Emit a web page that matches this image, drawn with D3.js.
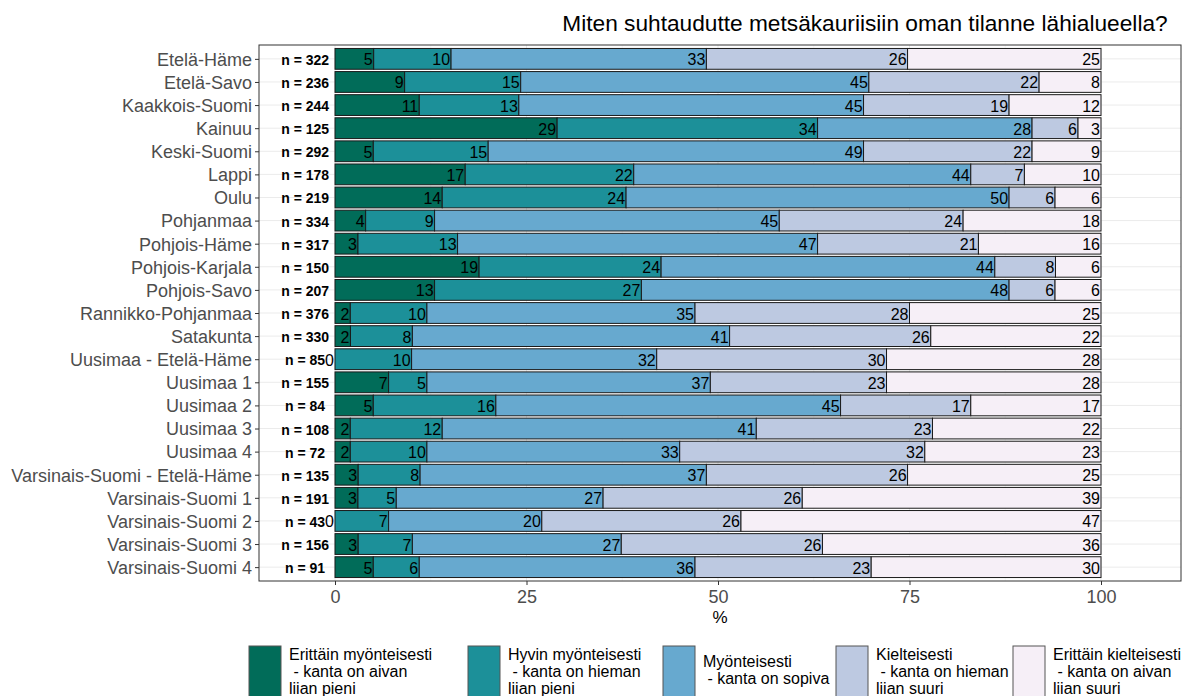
<!DOCTYPE html>
<html lang="fi">
<head>
<meta charset="UTF-8">
<title>Metsäkauris</title>
<script src="https://d3js.org/d3.v7.min.js"></script>
<style>
    body { margin: 0; background: #fff; font-family: "Liberation Sans", Arial, sans-serif; }
    svg text { font-family: "Liberation Sans", Arial, sans-serif; }
    .axis text { fill: #4d4d4d; font-size: 18px; }
    .axis line { stroke: #333; }
    .axis path { display: none; }
    .seglabel { font-size: 16px; fill: #000; }
    .nlabel { font-size: 14px; font-weight: bold; fill: #000; }
    .legend text { font-size: 16px; fill: #000; white-space: pre; }
</style>
</head>
<body>
<div id="chart"></div>
<script>
// regions (top to bottom) and respondents per region
const regions = ["Etelä-Häme", "Etelä-Savo", "Kaakkois-Suomi", "Kainuu", "Keski-Suomi", "Lappi", "Oulu",
    "Pohjanmaa", "Pohjois-Häme", "Pohjois-Karjala", "Pohjois-Savo", "Rannikko-Pohjanmaa", "Satakunta",
    "Uusimaa - Etelä-Häme", "Uusimaa 1", "Uusimaa 2", "Uusimaa 3", "Uusimaa 4",
    "Varsinais-Suomi - Etelä-Häme", "Varsinais-Suomi 1", "Varsinais-Suomi 2", "Varsinais-Suomi 3", "Varsinais-Suomi 4"];
const respondents = [322, 236, 244, 125, 292, 178, 219, 334, 317, 150, 207, 376, 330, 85, 155, 84, 108, 72, 135, 191, 43, 156, 91];

// shares (%) per answer
const erittainMyonteisesti = [5, 9, 11, 29, 5, 17, 14, 4, 3, 19, 13, 2, 2, 0, 7, 5, 2, 2, 3, 3, 0, 3, 5];
const hyvinMyonteisesti    = [10, 15, 13, 34, 15, 22, 24, 9, 13, 24, 27, 10, 8, 10, 5, 16, 12, 10, 8, 5, 7, 7, 6];
const myonteisesti         = [33, 45, 45, 28, 49, 44, 50, 45, 47, 44, 48, 35, 41, 32, 37, 45, 41, 33, 37, 27, 20, 27, 36];
const kielteisesti         = [26, 22, 19, 6, 22, 7, 6, 24, 21, 8, 6, 28, 26, 30, 23, 17, 23, 32, 26, 26, 26, 26, 23];
const erittainKielteisesti = [25, 8, 12, 3, 9, 10, 6, 18, 16, 6, 6, 25, 22, 28, 28, 17, 22, 23, 25, 39, 47, 36, 30];

const answers = [
    ["Erittäin myönteisesti", " - kanta on aivan", "liian pieni"],
    ["Hyvin myönteisesti", " - kanta on hieman", "liian pieni"],
    ["Myönteisesti", " - kanta on sopiva"],
    ["Kielteisesti", " - kanta on hieman", "liian suuri"],
    ["Erittäin kielteisesti", " - kanta on aivan", "liian suuri"]
];
const palette = ["#016c59", "#1c9099", "#67a9cf", "#bdc9e1", "#f6eff7"];
const xTicks = [0, 25, 50, 75, 100];
const title = "Miten suhtaudutte metsäkauriisiin oman tilanne lähialueella?";

const series = [erittainMyonteisesti, hyvinMyonteisesti, myonteisesti, kielteisesti, erittainKielteisesti];
const keys = d3.range(series.length);
const rows = regions.map((r, i) => {
    const o = { region: r, n: respondents[i] };
    keys.forEach(k => o[k] = series[k][i]);
    return o;
});

const width = 1187, height = 696;
const panel = { left: 259, right: 1181, top: 45, bottom: 581 };
const legendX = [249, 468, 663, 836, 1013];

const svg = d3.select("#chart").append("svg")
    .attr("width", width)
    .attr("height", height);

const x = d3.scaleLinear().domain([0, 100]).range([335, 1101]);
const y = d3.scalePoint().domain(regions).range([panel.top, panel.bottom]).padding(0.6);
const barH = y.step() * 0.9;

// grid
const grid = svg.append("g");
d3.range(12.5, 112.5, 25).forEach(v => {
    grid.append("line").attr("x1", x(v)).attr("x2", x(v))
        .attr("y1", panel.top).attr("y2", panel.bottom)
        .attr("stroke", "#f2f2f2").attr("stroke-width", 0.6);
});
xTicks.forEach(v => {
    grid.append("line").attr("x1", x(v)).attr("x2", x(v))
        .attr("y1", panel.top).attr("y2", panel.bottom)
        .attr("stroke", "#ebebeb").attr("stroke-width", 1);
});
regions.forEach(r => {
    grid.append("line").attr("x1", panel.left).attr("x2", panel.right)
        .attr("y1", y(r)).attr("y2", y(r))
        .attr("stroke", "#ebebeb").attr("stroke-width", 1);
});

// stacked bars, each row filled to 100 %
const stacked = d3.stack().keys(keys).offset(d3.stackOffsetExpand)(rows);

const layers = svg.append("g").selectAll("g")
    .data(stacked)
    .join("g")
    .attr("fill", d => palette[d.key]);

layers.selectAll("rect")
    .data(d => d)
    .join("rect")
    .attr("x", d => x(d[0] * 100))
    .attr("width", d => x(d[1] * 100) - x(d[0] * 100))
    .attr("y", d => y(d.data.region) - barH / 2)
    .attr("height", barH)
    .attr("stroke", "#1a1a1a")
    .attr("stroke-width", 1);

layers.selectAll("text")
    .data(d => d.map(s => ({ s: s, key: d.key })))
    .join("text")
    .attr("class", "seglabel")
    .attr("x", d => x(d.s[1] * 100) - 1)
    .attr("y", d => y(d.s.data.region) + 1)
    .attr("text-anchor", "end")
    .attr("dominant-baseline", "central")
    .text(d => d.s.data[d.key]);

// n labels
svg.append("g").selectAll("text")
    .data(rows)
    .join("text")
    .attr("class", "nlabel")
    .attr("x", x(-3.9))
    .attr("y", d => y(d.region) + 1)
    .attr("text-anchor", "middle")
    .attr("dominant-baseline", "central")
    .text(d => "n = " + d.n);

// panel border
svg.append("rect")
    .attr("x", panel.left).attr("y", panel.top)
    .attr("width", panel.right - panel.left)
    .attr("height", panel.bottom - panel.top)
    .attr("fill", "none")
    .attr("stroke", "#333")
    .attr("stroke-width", 1);

// axes
svg.append("g")
    .attr("class", "axis")
    .attr("transform", `translate(0,${panel.bottom})`)
    .call(d3.axisBottom(x).tickValues(xTicks).tickSize(4).tickPadding(5));

svg.append("g")
    .attr("class", "axis")
    .attr("transform", `translate(${panel.left},0)`)
    .call(d3.axisLeft(y).tickSize(4).tickPadding(3))
    .selectAll("text").attr("dy", "0.35em");

svg.append("text")
    .attr("x", (panel.left + panel.right) / 2)
    .attr("y", 623)
    .attr("text-anchor", "middle")
    .attr("font-size", 17)
    .attr("fill", "#000")
    .text("%");

svg.append("text")
    .attr("x", 865)
    .attr("y", 31)
    .attr("text-anchor", "middle")
    .attr("font-size", 22.7)
    .attr("fill", "#000")
    .text(title);

// legend
const legend = svg.append("g").attr("class", "legend");
const items = legend.selectAll("g")
    .data(answers)
    .join("g")
    .attr("transform", (d, i) => `translate(${legendX[i]},0)`);

items.append("rect")
    .attr("x", 0).attr("y", 646)
    .attr("width", 32).attr("height", 56)
    .attr("fill", (d, i) => palette[i])
    .attr("stroke", "#555")
    .attr("stroke-width", 1);

items.each(function(lines) {
    const g = d3.select(this);
    const top = lines.length === 3 ? 660 : 667;
    lines.forEach((t, j) => {
        g.append("text")
            .attr("x", 40)
            .attr("y", top + j * 17)
            .attr("xml:space", "preserve")
            .text(t);
    });
});
</script>
</body>
</html>
